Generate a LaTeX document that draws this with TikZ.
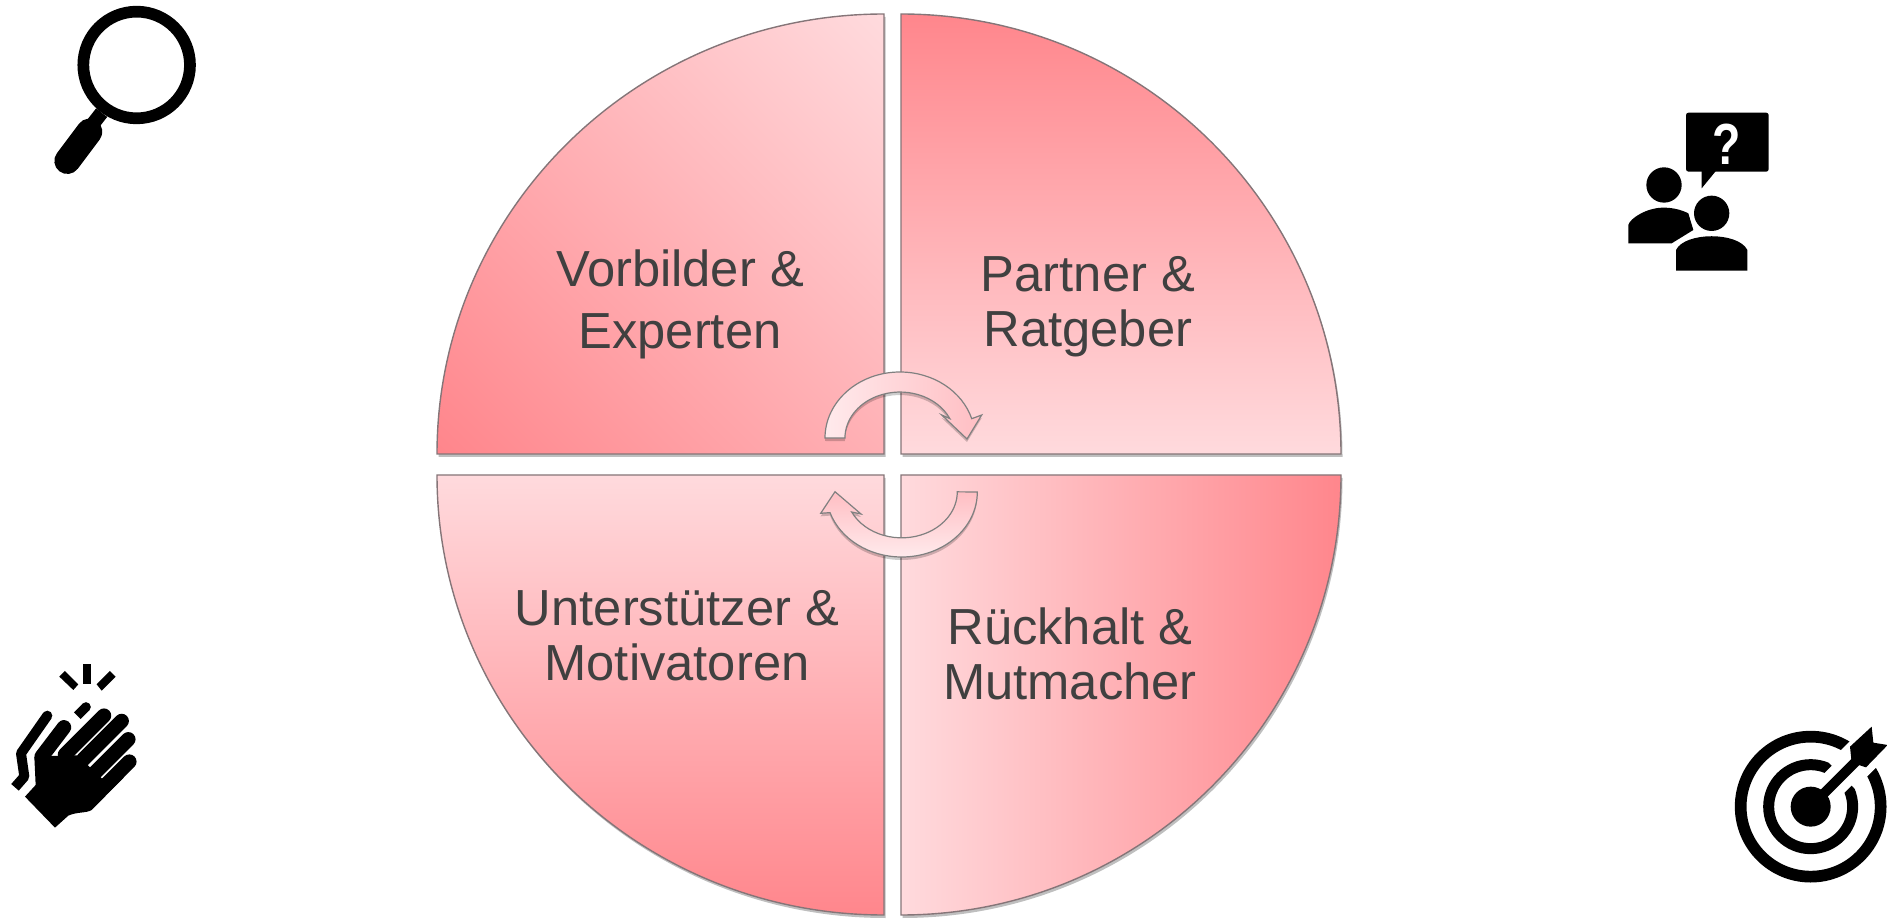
\documentclass[tikz,border=0pt]{standalone}
\usepackage{fontspec}
\setmainfont{Liberation Sans}
\usetikzlibrary{shadows}
\definecolor{darkpink}{HTML}{FF868C}
\definecolor{lightpink}{HTML}{FFDADD}
\definecolor{edgegray}{HTML}{857578}
\definecolor{labelgray}{HTML}{404040}
\pgfdeclareverticalshading{diagquad}{100bp}{color(0bp)=(darkpink); color(15bp)=(darkpink); color(85bp)=(lightpink); color(100bp)=(lightpink)}
\tikzset{
  quadrant/.style={draw=edgegray,line width=1.4pt,drop shadow={shadow xshift=1.5pt,shadow yshift=-3pt,opacity=.25,fill=black}},
  turnarrow/.style={draw=gray,line width=1.2pt,drop shadow={shadow xshift=0pt,shadow yshift=-3pt,opacity=.2,fill=black}},
  quadlabel/.style={text=labelgray,align=center,font=\fontsize{50.7}{55}\selectfont},
  widelabel/.style={quadlabel,font=\fontsize{50.7}{62}\selectfont},
}
\begin{document}
\begin{tikzpicture}[x=1pt,y=1pt]
\useasboundingbox (0,0) rectangle (1887,922);

\path[quadrant,shading=diagquad,shading angle=-45]
  (884,468) -- (437,468) arc[start angle=180,end angle=90,x radius=447,y radius=440] -- cycle;
\path[quadrant,shade,top color=darkpink,bottom color=lightpink]
  (901,468) -- (901,908) arc[start angle=90,end angle=0,x radius=440,y radius=440] -- cycle;
\path[quadrant,shade,left color=lightpink,right color=darkpink]
  (901,447) -- (1341,447) arc[start angle=0,end angle=-90,x radius=440,y radius=440] -- cycle;
\path[quadrant,shade,top color=lightpink,bottom color=darkpink]
  (884,447) -- (884,7) arc[start angle=270,end angle=180,x radius=447,y radius=440] -- cycle;

\node[widelabel] (vorbilder) at (680,618) {Vorbilder \&\\ Experten};
\node[quadlabel] (partner) at (1088,615) {Partner \&\\ Ratgeber};
\node[quadlabel] (unterstuetzer) at (677,286) {Unterstützer \&\\ Motivatoren};
\node[quadlabel] (rueckhalt) at (1070,268) {Rückhalt \&\\ Mutmacher};

\definecolor{arrowlight}{HTML}{FFEAEC}
\definecolor{arrowdark}{HTML}{FFBEC3}
\path[turnarrow,shade,left color=arrowlight,right color=arrowdark]
  (825,484) arc[start angle=180,end angle=17,x radius=75,y radius=66]
  -- (981.7,507) -- (967,483) -- (941.7,507) -- (949.8,503.4)
  arc[start angle=25,end angle=180,x radius=55,y radius=46] -- cycle;
\path[turnarrow,shade,top color=arrowdark,bottom color=arrowlight]
  (977.3,430) arc[start angle=0,end angle=-161.5,x radius=75.6,y radius=65]
  -- (820.7,408.7) -- (835,430.3) -- (861,408) -- (851.7,410)
  arc[start angle=-154,end angle=0,x radius=55.6,y radius=46] -- cycle;

% magnifier
\begin{scope}[shift={(30,922)},xscale=0.3333,yscale=-0.3333]
\draw[line width=11.7pt] (320,195) circle[radius=160];
\draw[line width=14pt] (190,370) -- (215,338);
\draw[line width=26pt,line cap=round] (112,483) -- (178,395);
\end{scope}

% two people
\begin{scope}[shift={(1610,822)},xscale=0.3333,yscale=-0.3333]
\fill[rounded corners=2.5pt] (228,38) rectangle (476,215);
\fill (320,210) -- (275,265) -- (275,210) -- cycle;
\node[text=white,font=\fontsize{58}{58}\selectfont\bfseries] (question) at (350,132) {\scalebox{0.8}[1]{?}};
\fill (162,255) circle[radius=53];
\fill (55,430) -- (55,375) .. controls (60,355) and (110,323) .. (160,323)
  .. controls (190,323) and (215,330) .. (235,340) -- (250,390) -- (185,430) -- cycle;
\fill[white] (305,340) circle[radius=66];
\fill[white] (185,525) -- (185,445) .. controls (220,405) and (390,405) .. (425,445) -- (425,525) -- cycle;
\fill (305,340) circle[radius=53];
\fill (198,512) -- (198,450) .. controls (225,395) and (385,395) .. (412,450) -- (412,512) -- cycle;
\end{scope}

% clapping hands
\begin{scope}[shift={(0,272)},xscale=0.3333,yscale=-0.3333]
\fill (249,42) rectangle (273,102);
\fill (195,63) -- (235,103) -- (220,120) -- (178,80) -- cycle;
\fill (330,63) -- (347,80) -- (305,122) -- (290,103) -- cycle;
\draw[line width=9.5pt] (232,197) -- (258,171);
\fill (258,171) circle[radius=14.5];
\draw[line width=10pt,line join=round] (142,197) -- (63,310) -- (73,380) -- (45,412);
\fill (142,197) circle[radius=15];
\draw[line width=14.5pt,line cap=round] (125,320) -- (192,232);
\draw[line width=14.5pt,line cap=round] (195,314) -- (312,197);
\draw[line width=14.5pt,line cap=round] (250,328) -- (365,213);
\draw[line width=14.5pt,line cap=round] (280,373) -- (385,268);
\draw[line width=14.5pt,line cap=round] (310,413) -- (388,335);
\fill (75,440) -- (107,405) -- (103,320) -- (157,318) -- (232,316) -- (268,350) -- (305,385)
  -- (372,382) -- (275,480) .. controls (260,490) and (230,485) .. (205,497) -- (165,533) -- cycle;
\end{scope}

% target
\begin{scope}[shift={(1720,212)},xscale=0.3333,yscale=-0.3333]
\draw[line width=11.7pt] (272,290) circle[radius=210];
\draw[line width=11pt] (272,290) circle[radius=126];
\draw[white,line width=28pt] (272,290) -- (500,62);
\draw[white,line width=37pt] (365,197) -- (510,52);
\fill (272,290) circle[radius=60];
\draw[line width=10pt] (272,290) -- (420,142);
\fill (390,110) -- (455,50) -- (460,98) -- (503,105) -- (438,172) -- (395,158) -- cycle;
\end{scope}
\end{tikzpicture}
\end{document}
